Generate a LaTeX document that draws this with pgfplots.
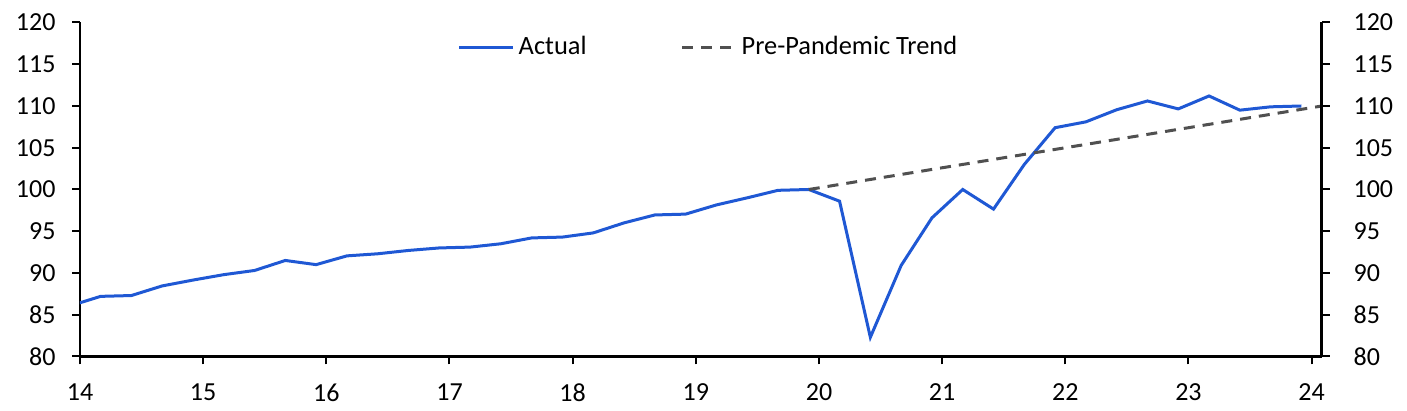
\documentclass[border=0pt]{standalone}
\usepackage{fontspec}
\setmainfont{Carlito}
\usepackage{pgfplots}
\pgfplotsset{compat=1.18}
\usetikzlibrary{calc}
\definecolor{actblue}{RGB}{31,88,212}
\definecolor{trendgray}{RGB}{80,80,80}
\begin{document}
\fontsize{13}{15}\selectfont
\begin{tikzpicture}
\pgfplotsset{
  every axis/.append style={
    scale only axis, width=620.75pt, height=167pt,
    xmin=14, xmax=24.08, ymin=80, ymax=120,
    ytick={80,85,...,120},
    tick align=outside, major tick length=4pt,
    axis line style={line width=1.1pt},
    every tick/.style={black, line width=1pt},
    /pgf/number format/assume math mode=true,
    tick label style={font=\fontsize{13}{15}\selectfont},
    clip=true,
  }
}
\begin{axis}[
  axis x line*=bottom, axis y line*=left,
  xtick={14,...,24},
  xticklabel style={yshift=-5pt},
  yticklabel style={xshift=-3.75pt},
  legend style={draw=none, fill=none, at={(0.507,0.926)}, anchor=center,
    legend columns=2, column sep=0pt, font=\fontsize{13.2}{15}\selectfont,
    /tikz/every even column/.append style={column sep=45pt}},
  legend image code/.code={\draw[#1] (0pt,0pt) -- (27pt,0pt);},
]
\addplot[actblue, line width=1.5pt] coordinates {
(13.917,86.05) (14.167,87.2) (14.417,87.3) (14.667,88.45) (14.917,89.15)
(15.167,89.8) (15.417,90.3) (15.667,91.5) (15.917,91.0)
(16.167,92.05) (16.417,92.3) (16.667,92.7) (16.917,93.0)
(17.167,93.1) (17.417,93.5) (17.667,94.2) (17.917,94.3)
(18.167,94.8) (18.417,96.0) (18.667,96.95) (18.917,97.05)
(19.167,98.15) (19.417,99.0) (19.667,99.9) (19.917,100.0)
(20.167,98.6) (20.417,82.3) (20.667,90.9) (20.917,96.6)
(21.167,100.0) (21.417,97.65) (21.667,103.0) (21.917,107.4)
(22.167,108.1) (22.417,109.55) (22.667,110.6) (22.917,109.65)
(23.167,111.2) (23.417,109.5) (23.667,109.9) (23.917,110.0)
};
\addlegendentry{Actual}
\addplot[trendgray, line width=1.5pt, dash pattern=on 5.5pt off 4pt] coordinates {
(19.917,100.0) (24.083,110.0)
};
\addlegendentry{Pre-Pandemic Trend}
\end{axis}
\begin{axis}[
  axis x line=none, axis y line*=right,
  yticklabel style={xshift=7.5pt},
]
\end{axis}
\useasboundingbox ($(current axis.south west)+(-40pt,-25.65pt)$) rectangle ($(current axis.north east)+(42.75pt,11.25pt)$);
\end{tikzpicture}
\end{document}
